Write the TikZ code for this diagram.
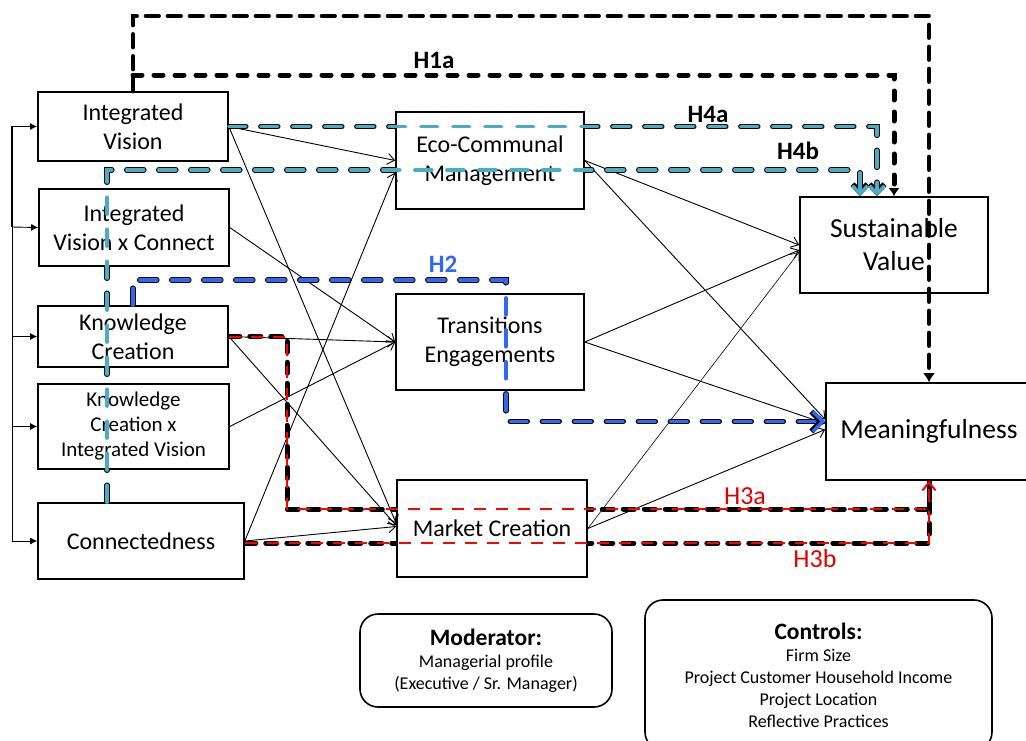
\documentclass[tikz,border=0pt]{standalone}
\usepackage{fontspec}
\setmainfont{Carlito}
\usetikzlibrary{arrows.meta}
\pgfdeclarelayer{shadow}
\pgfsetlayers{shadow,main}
\definecolor{tealH}{RGB}{75,172,198}
\definecolor{blueH}{RGB}{45,105,245}
\definecolor{redH}{RGB}{255,0,0}
\definecolor{redT}{RGB}{225,0,0}
\newcommand\notehead{\fontsize{23.5}{24}\selectfont\bfseries}

\begin{document}
\begin{tikzpicture}[x=1pt,y=-1pt,
  box/.style={draw, fill=white, line width=1.6pt, align=center, inner sep=0pt},
  inbox/.style={box, font=\fontsize{24}{28.5}\selectfont},
  outbox/.style={box, font=\fontsize{27.5}{33}\selectfont},
  notebox/.style={draw, line width=1.6pt, rounded corners=18pt, align=center, inner sep=0pt,
    font=\fontsize{18}{22}\selectfont},
  link/.style={line width=0.9pt, -{Straight Barb[length=7pt,width=11pt]}},
  feed/.style={line width=0.9pt, -{Latex[length=7pt,width=7pt]}},
  shade/.style={black, line width=5.5pt, line cap=round, xshift=1pt, yshift=-2.5pt},
  hyp/.style={line width=3.4pt, line cap=round, dash pattern=on 17pt off 15pt},
  hypred/.style={redH, line width=2pt, dash pattern=on 12pt off 10pt},
  hlabel/.style={anchor=base, font=\fontsize{25}{25}\selectfont\bfseries},
  rlabel/.style={anchor=base, text=redT, font=\fontsize{26}{26}\selectfont},
]
\useasboundingbox (0,0) rectangle (1026,740);

% ---- constructs ----
\node[inbox, minimum width=190pt, minimum height=69pt] (iv) at (133,126.5) {Integrated\\Vision};
\node[inbox, minimum width=190pt, minimum height=77pt] (ivc) at (134,227.5) {Integrated\\Vision x Connect};
\node[inbox, minimum width=190pt, minimum height=61pt] (kc) at (133,336.5) {Knowledge\\Creation};
\node[box, font=\fontsize{21}{25}\selectfont, minimum width=191pt, minimum height=85pt] (kciv) at (133.5,426.5)
  {Knowledge\\Creation x\\Integrated Vision};
\node[inbox, minimum width=206pt, minimum height=76pt] (conn) at (141,541) {Connectedness};

\node[inbox, minimum width=188pt, minimum height=97pt] (eco) at (490,160.5) {Eco-Communal\\Management};
\node[inbox, minimum width=188pt, minimum height=96pt] (te) at (490,342) {Transitions\\Engagements};
\node[inbox, minimum width=190pt, minimum height=97pt] (mc) at (492,528.5) {Market Creation};

\node[outbox, minimum width=188pt, minimum height=96pt] (sv) at (894,245) {Sustainable\\Value};
\node[outbox, minimum width=206pt, minimum height=97pt] (mean) at (929,431.5) {Meaningfulness};

\node[notebox, minimum width=252pt, minimum height=93pt] (mod) at (486,660.5)
  {{\notehead Moderator:}\\Managerial profile\\(Executive / Sr. Manager)};
\node[notebox, minimum width=347pt, minimum height=150pt] (ctrl) at (818.5,675)
  {{\notehead Controls:}\\Firm Size\\Project Customer Household Income\\Project Location\\Reflective Practices};

% ---- helper points for the hypothesis paths ----
\coordinate (h1top) at (0,16);
\coordinate (h1mid) at (0,75);
\coordinate (h4row) at (0,170);
\coordinate (sv4a) at ([xshift=-17pt]sv.north);
\coordinate (sv4b) at ([xshift=-34pt]sv.north);
\coordinate (conn4b) at ([xshift=-34pt]conn.north);
\coordinate (h2corner) at (506,280);
\coordinate (mean2) at ([yshift=10pt]mean.west);
\coordinate (h3corner) at (287,509);
\coordinate (conn3b) at ([yshift=-2pt]conn.east);
\coordinate (rail) at (12,227);

% ---- black shadows of the coloured hypothesis paths ----
\begin{pgfonlayer}{shadow}
  \draw[shade, dash pattern=on 17pt off 15pt, -{Straight Barb[length=8pt,width=15pt]}]
    (iv.east) -| (sv4a);
  \draw[shade, dash pattern=on 17pt off 15pt, -{Straight Barb[length=8pt,width=15pt]}]
    (conn4b) -- (conn4b |- h4row) -| (sv4b);
  \draw[shade, dash pattern=on 17pt off 15pt, -{Straight Barb[length=10pt,width=20pt]}]
    (kc.north) |- (h2corner) |- (mean2);
  \draw[shade, line width=5pt, dash pattern=on 11pt off 10pt] (kc.east) -| (h3corner) -| (mean.south);
  \draw[shade, line width=5pt, dash pattern=on 11pt off 10pt] (conn3b) -| (mean.south);
\end{pgfonlayer}

% ---- feed lines on the left ----
\draw[feed, line width=1.8pt] (rail) |- (iv.west);
\draw[feed] (rail) -- (ivc.west);
\draw[feed] (rail) |- (kc.west);
\draw[feed] (rail) |- (kciv.west);
\draw[feed] (rail) |- (conn.west);

% ---- structural paths ----
\draw[link] (iv.east) -- (eco.west);
\draw[link] (iv.east) -- ([yshift=5pt]mc.west);
\draw[link] (ivc.east) -- (te.west);
\draw[link] (kc.east) -- (te.west);
\draw[link] (kc.east) -- ([yshift=3pt]mc.west);
\draw[link] (kciv.east) -- (te.west);
\draw[link] (conn.east) -- ([yshift=-12pt]eco.west);
\draw[link] (conn.east) -- ([yshift=2pt]mc.west);
\draw[link] (eco.east) -- (sv.west);
\draw[link] (eco.east) -- ([yshift=12pt]mean.west);
\draw[link] (te.east) -- ([yshift=-5pt]sv.west);
\draw[link] (te.east) -- ([yshift=8pt]mean.west);
\draw[link, line width=0.6pt] (mc.east) -- ([yshift=-7pt]sv.west);
\draw[link] (mc.east) -- ([yshift=2pt]mean.west);

% ---- coloured hypothesis paths ----
\draw[hyp, tealH, -{Straight Barb[length=8pt,width=15pt]}] (iv.east) -| (sv4a);
\draw[hyp, tealH, -{Straight Barb[length=8pt,width=15pt]}] (conn4b) -- (conn4b |- h4row) -| (sv4b);
\draw[hyp, blueH, -{Straight Barb[length=10pt,width=20pt]}] (kc.north) |- (h2corner) |- (mean2);
\draw[hypred] (kc.east) -| (h3corner) -| (mean.south);
\draw[hypred, -{Straight Barb[length=8pt,width=13pt]}] (conn3b) -| (mean.south);

% ---- H1a paths ----
\draw[line width=4.3pt, line cap=round, dash pattern=on 13pt off 9pt, -{Latex[length=9pt,width=12pt]}]
  (iv.north) |- (mean.north |- h1top) -- (mean.north);
\draw[line width=5pt, line cap=round, dash pattern=on 9pt off 12pt, -{Latex[length=8pt,width=11pt]}]
  (iv.north |- h1mid) -| (sv.north);

% ---- hypothesis labels ----
\node[hlabel] (l1a) at (434,68) {H1a};
\node[hlabel] (l4a) at (708,122) {H4a};
\node[hlabel] (l4b) at (798,159) {H4b};
\node[hlabel, text=blueH] (l2) at (443,272) {H2};
\node[rlabel] (l3a) at (745,504) {H3a};
\node[rlabel] (l3b) at (815,567) {H3b};
\end{tikzpicture}
\end{document}
